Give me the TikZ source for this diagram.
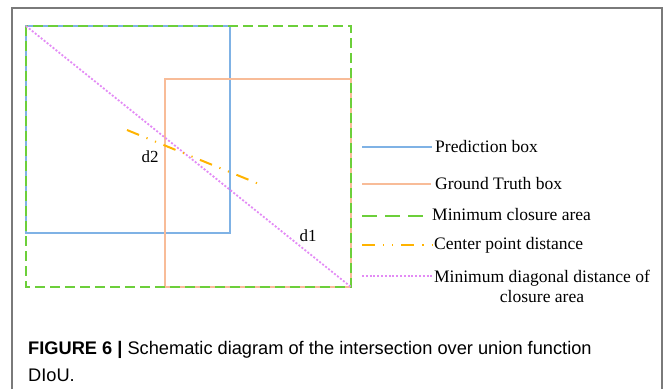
\documentclass[tikz,border=0pt]{standalone}
\usepackage{fontspec}
\setmainfont{Liberation Serif}
\newfontfamily\capfont{Liberation Sans}
\definecolor{predblue}{HTML}{7FB2E5}
\definecolor{gtorange}{HTML}{F8BC98}
\definecolor{closgreen}{HTML}{6CCF3A}
\definecolor{centgold}{HTML}{FFB300}
\definecolor{diagpink}{HTML}{E38BF5}
\definecolor{framegray}{HTML}{7A7A7A}
\tikzset{
  predline/.style={draw=predblue, line width=2bp},
  gtline/.style={draw=gtorange, line width=2bp},
  closline/.style={draw=closgreen, line width=2.5bp, dash pattern=on 10bp off 5bp},
  closleg/.style={draw=closgreen, line width=2.5bp, dash pattern=on 15bp off 8bp},
  centline/.style={draw=centgold, line width=2bp, dash pattern=on 13bp off 8bp on 1.2bp off 8bp on 1.2bp off 8bp},
  diagline/.style={draw=diagpink, line width=1.8bp, dash pattern=on 2bp off 1.8bp},
  legtext/.style={font=\fontsize{17.6}{20}\selectfont, inner sep=0pt, anchor=west},
  dlabel/.style={font=\fontsize{17}{20}\selectfont, inner sep=0pt},
}
\begin{document}
\begin{tikzpicture}[x=1bp,y=-1bp]
\useasboundingbox (0,0) rectangle (665,389);
% frame
\draw[framegray, line width=1.5bp] (12,389) -- (12,8) -- (662,8) -- (662,389);
% corners
\coordinate (cTL) at (26,26);
\coordinate (cBR) at (351,287);
\coordinate (pTL) at (26,26);
\coordinate (pBR) at (230,233);
\coordinate (gTL) at (165,79);
\coordinate (gBR) at (351,287);
\coordinate (c1) at (127,130);
\coordinate (c2) at (259,184);
% boxes
\draw[predline] (pTL) rectangle (pBR);
\draw[gtline] (gTL) rectangle (gBR);
\draw[closline] (cTL) rectangle (cBR);
\draw[diagline] (cTL) -- (cBR);
\draw[centline] (c1) -- (c2);
\node[dlabel] (d2) at (150,157) {d2};
\node[dlabel] (d1) at (308,236) {d1};
% legend
\coordinate (l1a) at (362,147); \coordinate (l1b) at (432,147);
\coordinate (l2a) at (362,184); \coordinate (l2b) at (431,184);
\coordinate (l3a) at (362,216); \coordinate (l3b) at (424,216);
\coordinate (l4a) at (362,245); \coordinate (l4b) at (433,245);
\coordinate (l5a) at (362,276); \coordinate (l5b) at (433,276);
\draw[predline, line width=1.5bp] (l1a) -- (l1b);
\draw[gtline, line width=1.5bp] (l2a) -- (l2b);
\draw[closleg] (l3a) -- (l3b);
\draw[centline] (l4a) -- (l4b);
\draw[diagline] (l5a) -- (l5b);
\node[legtext] (t1) at (435,146) {Prediction box};
\node[legtext] (t2) at (435,183) {Ground Truth box};
\node[legtext] (t3) at (432,214) {Minimum closure area};
\node[legtext] (t4) at (434,245) {Center point distance};
\node[legtext, anchor=center, align=center] (t5) at (542,286) {Minimum diagonal distance of\\closure area};
% caption
\node[font=\capfont\fontsize{18.3}{27}\selectfont, anchor=base west, inner sep=0pt, align=left] (cap) at (28,381.5)
  {\textbf{FIGURE 6 |} Schematic diagram of the intersection over union function\\DIoU.};
\end{tikzpicture}
\end{document}
